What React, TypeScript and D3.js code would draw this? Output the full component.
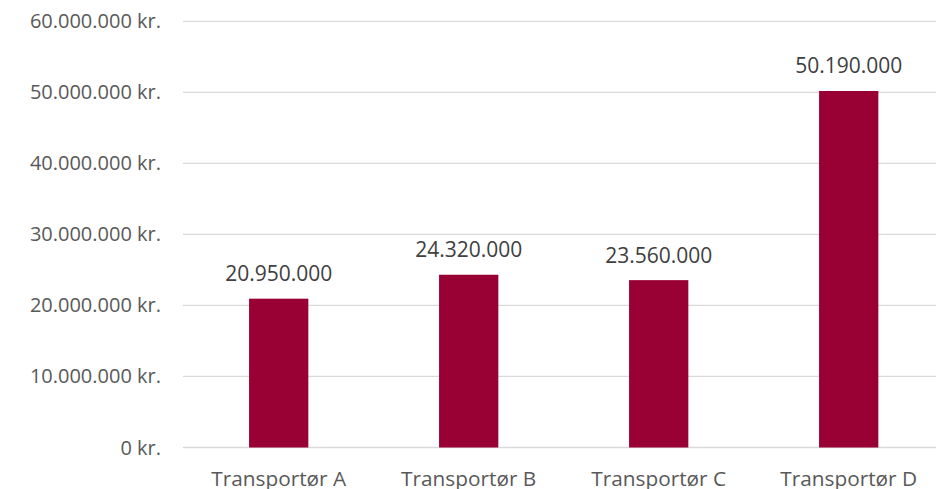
import React from "react";
import * as d3 from "d3";

const categories = ["Transportør A", "Transportør B", "Transportør C", "Transportør D"];
const values = [20950000, 24320000, 23560000, 50190000];
const yTicks = [0, 10000000, 20000000, 30000000, 40000000, 50000000, 60000000];

const W = 936;
const H = 489;
const FONT = "'Open Sans', sans-serif";

const fmtDots = (v: number) => {
  const s = Math.round(v).toString();
  return s.replace(/\B(?=(\d{3})+(?!\d))/g, ".");
};

export default function App() {
  const x = d3.scaleBand<string>().domain(categories).range([183.7, 943.7]).paddingInner(0.688).paddingOuter(0.344);
  const y = d3.scaleLinear().domain([0, 60000000]).range([447.5, 21.3]);
  return (
    <svg width={W} height={H} style={{ position: "absolute", left: 0, top: 0 }}>
      <rect width={W} height={H} fill="#fff" />
      {yTicks.map((t) => (
        <g key={t}>
          <line x1={183} x2={W} y1={y(t)} y2={y(t)} stroke="#d9d9d9" strokeWidth={1.3} />
          <text x={161} y={y(t)} dy="0.35em" textAnchor="end" fontFamily={FONT} fontSize={20} fill="#595959">
            {fmtDots(t) + " kr."}
          </text>
        </g>
      ))}
      {categories.map((c, i) => (
        <g key={c}>
          <rect x={x(c)} y={y(values[i])} width={x.bandwidth()} height={y(0) - y(values[i])} fill="#990033" />
          <text x={(x(c) as number) + x.bandwidth() / 2} y={y(values[i]) - 17.5} textAnchor="middle" fontFamily={FONT} fontSize={21} fill="#404040">
            {fmtDots(values[i])}
          </text>
          <text x={(x(c) as number) + x.bandwidth() / 2} y={486} textAnchor="middle" fontFamily={FONT} fontSize={20.8} fill="#595959">
            {c}
          </text>
        </g>
      ))}
    </svg>
  );
}
